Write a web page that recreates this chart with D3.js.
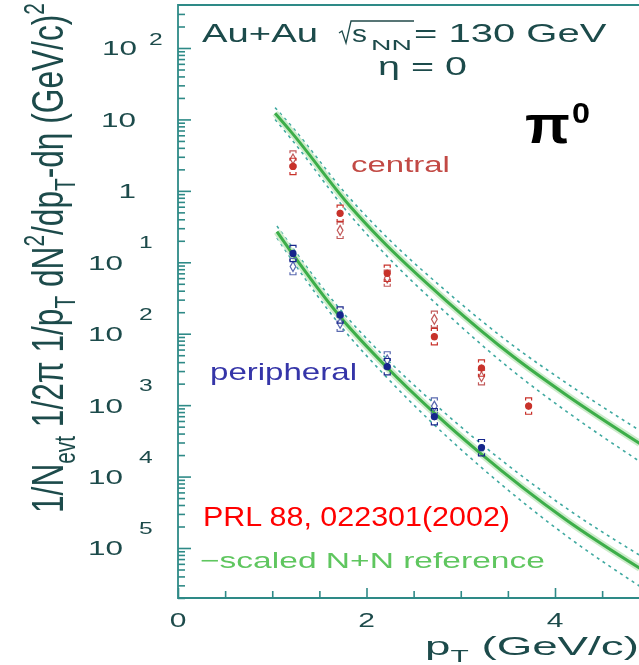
<!DOCTYPE html>
<html><head><meta charset="utf-8">
<script src="https://cdn.jsdelivr.net/npm/d3@7"></script>
<style>
html,body{margin:0;padding:0;background:#fff;}
svg{display:block;}
text{font-family:"Liberation Sans",Arial,Helvetica,sans-serif;}
</style></head><body>
<svg id="chart" width="639" height="665"></svg>
<script>
// pi0 invariant yields in Au+Au collisions at sqrt(s_NN) = 130 GeV, eta = 0
const pT = [1.22, 1.72, 2.22, 2.72, 3.22, 3.72];
const centralFilled = [2.2, 0.485, 0.070, 0.0091, 0.0033, 0.00097];
const centralOpen = [2.8, 0.28, 0.060, 0.0159, 0.0025, null];
const peripheralFilled = [0.133, 0.0183, 0.00346, 0.00069, 0.000254, null];
const peripheralOpen = [0.087, 0.0140, 0.0043, 0.00097, null, null];

// scaled N+N reference curves with their uncertainty band (multiplicative limits)
const refPtCentral = [1.03, 1.20, 1.83, 2.14, 2.85, 3.56, 4.12, 4.90];
const refCentral = [12.2, 6.7, 0.60, 0.217, 0.0287, 0.00476, 0.00139, 0.00029];
const refUpCentral = [1.2, 1.22, 1.28, 1.3, 1.36, 1.42, 1.47, 1.52];
const refDownCentral = [0.82, 0.8, 0.75, 0.72, 0.67, 0.62, 0.59, 0.56];
const refPtPeripheral = [1.05, 1.21, 1.72, 2.21, 2.71, 3.20, 4.12, 4.90];
const refPeripheral = [0.268, 0.134, 0.0173, 0.00345, 0.00080, 0.000217, 2.47e-5, 5.2e-6];
const refUpPeripheral = [1.2, 1.22, 1.27, 1.3, 1.35, 1.38, 1.46, 1.52];
const refDownPeripheral = [0.82, 0.8, 0.76, 0.72, 0.68, 0.65, 0.6, 0.56];

// axis ticks and their labels as printed
const xTickValues = [0, 2, 4];
const xMinorValues = [0.5, 1, 1.5, 2.5, 3, 3.5, 4.5];
const yTickExp = [2, 1, 0, -1, -2, -3, -4, -5];
const yTickBase = ["10", "10", "1", "10", "10", "10", "10", "10"];
const yTickSup = ["2", "", "", "1", "2", "3", "4", "5"];

const svg = d3.select("#chart");
const x = d3.scaleLinear().domain([0, 5]).range([178, 649.25]);
const y = d3.scaleLog().domain([Math.pow(10, -5.7), Math.pow(10, 2.602)]).range([598, 5]);

const defs = svg.append("defs");
defs.append("filter").attr("id", "soft").attr("x", "-5%").attr("y", "-5%")
  .attr("width", "110%").attr("height", "110%")
  .append("feGaussianBlur").attr("stdDeviation", 0.5);
defs.append("clipPath").attr("id", "plotClip").append("rect")
  .attr("x", x(0)).attr("y", y.range()[1]).attr("width", 480).attr("height", y.range()[0] - y.range()[1]);

const AXIS = "#2f8a87", INK = "#1f4b4b";
const g = svg.append("g").attr("filter", "url(#soft)");

// stretch a text element horizontally so it spans [left, right]
function fitText(sel, left, right) {
  const b = sel.node().getBBox();
  const s = (right - left) / b.width;
  sel.attr("transform", `translate(${left - b.x * s},0) scale(${s},1)`);
  return sel;
}
function scaledText(parent, str, xPos, yPos, size, sx, anchor, color) {
  const t = parent.append("text").attr("font-size", size).attr("fill", color)
    .attr("text-anchor", anchor).attr("y", yPos).text(str);
  t.attr("transform", `translate(${xPos},0) scale(${sx},1)`);
  return t;
}

// ---- frame and ticks ----
const axes = g.append("g").attr("stroke", AXIS).attr("fill", "none");
axes.append("path").attr("stroke-width", 1.8)
  .attr("d", `M${x(5)},${y.range()[1]}H${x(0)}V${y.range()[0]}H${x(5)}`);

const yAxis = d3.axisRight(y).tickValues(yTickExp.map(e => Math.pow(10, e)))
  .tickSize(13).tickFormat("");
const yMinor = [];
for (let e = -6; e <= 2; e++) for (let m = 2; m <= 9; m++) {
  const v = m * Math.pow(10, e);
  if (v > y.domain()[0] && v < y.domain()[1]) yMinor.push(v);
}
const yAxisMinor = d3.axisRight(y).tickValues(yMinor).tickSize(7).tickFormat("");
[yAxis, yAxisMinor].forEach(ax => {
  const a = g.append("g").attr("transform", `translate(${x(0)},0)`).call(ax);
  a.select(".domain").remove();
  a.selectAll("line").attr("stroke", AXIS).attr("stroke-width", 1.6);
});
const xAxis = d3.axisTop(x).tickValues(xTickValues).tickSize(10).tickFormat("");
const xAxisMinor = d3.axisTop(x).tickValues(xMinorValues).tickSize(7).tickFormat("");
[xAxis, xAxisMinor].forEach(ax => {
  const a = g.append("g").attr("transform", `translate(0,${y.range()[0]})`).call(ax);
  a.select(".domain").remove();
  a.selectAll("line").attr("stroke", AXIS).attr("stroke-width", 1.6);
});

// y tick labels: "10" with exponent written above right
yTickExp.forEach((e, i) => {
  const ty = y(Math.pow(10, e));
  const baseRight = e < 0 ? 123 : (yTickSup[i] ? 137 : 136);
  scaledText(g, yTickBase[i], baseRight, ty + 7.5, 21, 1.5, "end", INK);
  if (yTickSup[i]) {
    const supLeft = e < 0 ? 139 : 149;
    const supY = e < 0 ? ty - 14 : ty - 3;
    scaledText(g, yTickSup[i], supLeft, supY, 17, 1.45, "start", INK);
  }
});
xTickValues.forEach(v => scaledText(g, String(v), x(v), 627, 20, 1.5, "middle", INK));

// ---- axis titles ----
const xt = g.append("text").attr("font-size", 26).attr("fill", INK).attr("y", 655);
xt.append("tspan").text("p");
xt.append("tspan").attr("font-size", 17).attr("dy", 7).text("T");
xt.append("tspan").attr("dy", -7).text(" (GeV/c)");
fitText(xt, 425, 639);

const yt = g.append("text").attr("font-size", 44).attr("fill", INK);
[["1/N", 0, 44], ["evt", 12, 29], [" 1/2\u03c0 1/p", -12, 44], ["T", 12, 29], [" dN", -12, 44],
 ["2", -19, 29], ["/dp", 19, 44], ["T", 12, 29], ["-d\u03b7 (GeV/c)", -12, 44], ["2", -19, 29]]
  .forEach(([s, dy, fs]) => yt.append("tspan").attr("dy", dy).attr("font-size", fs).text(s));
{
  const b = yt.node().getBBox();
  const s = 510 / b.width;
  yt.attr("transform", `translate(63,${513 + b.x * s}) rotate(-90) scale(${s},1)`);
}

// ---- header ----
const hdr = g.append("g");
fitText(hdr.append("text").attr("font-size", 25).attr("fill", INK).attr("y", 42).text("Au+Au"), 202, 318);
hdr.append("path").attr("fill", "none").attr("stroke", INK).attr("stroke-width", 1.3)
  .attr("d", "M339,33 L342,31 L346,43 L351,21 H414");
fitText(hdr.append("text").attr("font-size", 23).attr("fill", INK).attr("y", 42).text("s"), 352, 367);
fitText(hdr.append("text").attr("font-size", 14).attr("fill", INK).attr("y", 50).text("NN"), 371, 412);
fitText(hdr.append("text").attr("font-size", 25).attr("fill", INK).attr("y", 42).text("= 130 GeV"), 414, 607);
fitText(hdr.append("text").attr("font-size", 25).attr("fill", INK).attr("y", 75).text("\u03b7 = 0"), 378, 467);

fitText(g.append("text").attr("font-size", 23).attr("fill", "#c24a44").attr("y", 172).text("central"), 351, 450);
fitText(g.append("text").attr("font-size", 23).attr("fill", "#3434a8").attr("y", 380).text("peripheral"), 210, 357);
fitText(g.append("text").attr("font-size", 22).attr("fill", "#5fc65f").attr("y", 568).text("\u2212scaled N+N reference"), 200, 545);

// ---- reference curves ----
const plot = g.append("g").attr("clip-path", "url(#plotClip)");
const line = d3.line().x(d => x(d[0])).y(d => y(d[1])).curve(d3.curveMonotoneX);
function drawRef(pts, vals, up, down) {
  const mid = pts.map((p, i) => [p, vals[i]]);
  const hi = pts.map((p, i) => [p, vals[i] * up[i]]);
  const lo = pts.map((p, i) => [p, vals[i] * down[i]]);
  [hi, lo].forEach(d => plot.append("path").attr("d", line(d)).attr("fill", "none")
    .attr("stroke", "#3fa9a0").attr("stroke-width", 1.6).attr("stroke-dasharray", "3,4"));
  plot.append("path").attr("d", line(mid)).attr("fill", "none")
    .attr("stroke", "#cdeccb").attr("stroke-width", 7);
  plot.append("path").attr("d", line(mid)).attr("fill", "none")
    .attr("stroke", "#3cae4a").attr("stroke-width", 3);
}
drawRef(refPtCentral, refCentral, refUpCentral, refDownCentral);
drawRef(refPtPeripheral, refPeripheral, refUpPeripheral, refDownPeripheral);

// ---- data points ----
function drawSeries(vals, color, open) {
  vals.forEach((v, i) => {
    if (v == null) return;
    const px = x(pT[i]);
    const top = y(v * 1.3), bot = y(v / 1.3);
    plot.append("path").attr("fill", "none").attr("stroke", color).attr("stroke-width", 1.2)
      .attr("d", `M${px - 3},${top + 2.5}V${top}H${px + 3}V${top + 2.5}M${px - 3},${bot - 2.5}V${bot}H${px + 3}V${bot - 2.5}`);
    plot.append("line").attr("x1", px).attr("x2", px)
      .attr("y1", y(v * 1.12)).attr("y2", y(v / 1.12)).attr("stroke", color).attr("stroke-width", 1.2);
    if (open) {
      plot.append("path").attr("d", d3.symbol(d3.symbolDiamond, 28)())
        .attr("transform", `translate(${px},${y(v)})`)
        .attr("fill", "#fff").attr("stroke", color).attr("stroke-width", 1.2);
    } else {
      plot.append("circle").attr("cx", px).attr("cy", y(v)).attr("r", 3.6).attr("fill", color);
    }
  });
}
drawSeries(centralOpen, "#c25a5a", true);
drawSeries(peripheralOpen, "#5a6ab0", true);
drawSeries(centralFilled, "#c8302a", false);
drawSeries(peripheralFilled, "#18268c", false);

// ---- crisp annotations ----
fitText(svg.append("text").attr("font-size", 52).attr("font-weight", "bold").attr("fill", "#000")
  .attr("y", 143).text("\u03c0"), 525, 570);
fitText(svg.append("text").attr("font-size", 29).attr("font-weight", "bold").attr("fill", "#000")
  .attr("y", 123).text("0"), 572, 590);
fitText(svg.append("text").attr("font-size", 28).attr("fill", "#ff0000")
  .attr("y", 526).text("PRL 88, 022301(2002)"), 203, 510);
</script>
</body></html>
